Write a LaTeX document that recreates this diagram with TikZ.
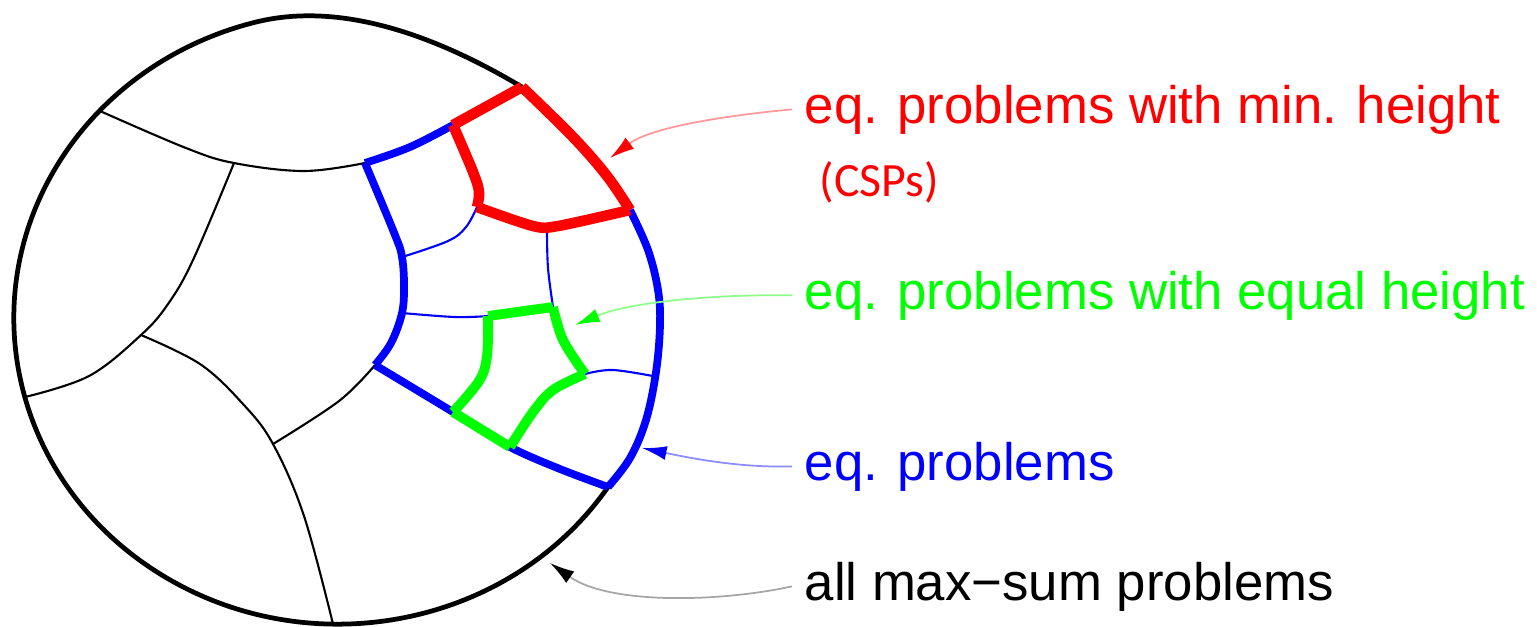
\documentclass[tikz,border=0pt]{standalone}
\usepackage{fontspec}
\setmainfont{Liberation Sans}
\newfontfamily\cspfont{Carlito}
\usetikzlibrary{arrows.meta}
\tikzset{
  outerline/.style={draw=black, line width=1.35pt},
  innerline/.style={draw=black, line width=0.6pt},
  eqline/.style={draw=blue, line width=2.2pt},
  thinblue/.style={draw=blue, line width=0.6pt},
  minline/.style={draw=red, line width=3pt},
  eqhline/.style={draw=green, line width=2.8pt},
  lbl/.style={anchor=base west, inner xsep=3.4pt, inner ysep=0pt, font=\fontsize{15pt}{18pt}\selectfont},
  pointer/.style={line width=0.5pt},
}
\begin{document}
\begin{tikzpicture}[x=0.01cm, y=-0.01cm]
\useasboundingbox (0,0) rectangle (1537,626);
% key vertices
\coordinate (A) at (522,87);
\coordinate (B) at (453,125);
\coordinate (C) at (365,163);
\coordinate (D) at (630,210);
\coordinate (E) at (477,207);
\coordinate (F) at (375,365);
\coordinate (G) at (608,487);
\coordinate (H) at (547,231);
\coordinate (I) at (402,257);
\coordinate (J) at (402,313);
\coordinate (K) at (488,316);
\coordinate (L) at (553,307);
\coordinate (M) at (585,374);
\coordinate (N) at (510,447);
\coordinate (P) at (453,412);
\coordinate (Q) at (658,377);
\coordinate (T1) at (234,163);
\coordinate (T2) at (141,335);
\coordinate (T3) at (273,444);
\coordinate (O1) at (100,111);
\coordinate (O2) at (25,397);
\coordinate (O3) at (333,624);
% outer boundary (black part)
\draw[outerline] (G) arc[start angle=33.5, end angle=255, x radius=324, y radius=306] .. controls (345,-1) and (445,41) .. (A);
% inner black lines
\draw[innerline] plot[smooth, tension=0.6] coordinates {(O1) (186,148) (T1) (304,171) (C)};
\draw[innerline] plot[smooth, tension=0.6] coordinates {(T1) (193,260) (168,304) (T2) (89,376) (O2)};
\draw[innerline] plot[smooth, tension=0.6] coordinates {(T2) (200,364) (243,404) (T3) (304,516) (O3)};
\draw[innerline] plot[smooth, tension=0.6] coordinates {(T3) (339,401) (F)};
% blue (equivalent problems) boundary
\draw[eqline] plot[smooth, tension=0.6] coordinates {(B) (410,147) (C)};
\draw[eqline] plot[smooth, tension=0.6] coordinates {(C) (395,235) (I) (404,285) (J) (391,343) (F)};
\draw[eqline] plot[smooth, tension=0.5] coordinates {(F) (P) (N) (560,469) (G)};
\draw[eqline] plot[smooth, tension=0.6] coordinates {(D) (648,250) (658,290) (660,325) (656,372) (646,420) (630,458) (G)};
% thin blue lines
\draw[thinblue] plot[smooth, tension=0.6] coordinates {(E) (466,227) (448,241) (I)};
\draw[thinblue] plot[smooth, tension=0.6] coordinates {(H) (548,268) (L)};
\draw[thinblue] plot[smooth, tension=0.6] coordinates {(J) (455,317) (K)};
\draw[thinblue] plot[smooth, tension=0.6] coordinates {(M) (613,370) (Q)};
% red (minimal height) boundary
\draw[minline] (A) -- (B);
\draw[minline] plot[smooth, tension=0.6] coordinates {(B) (473,172) (479,192) (E)};
\draw[minline] plot[smooth, tension=0.5] coordinates {(E) (533,226) (558,226) (D)};
\draw[minline] plot[smooth, tension=0.6] coordinates {(A) (573,137) (607,176) (D)};
% green (equal height) boundary
\draw[eqhline] (K) -- (L);
\draw[eqhline] plot[smooth, tension=0.6] coordinates {(L) (563,340) (M)};
\draw[eqhline] plot[smooth, tension=0.6] coordinates {(M) (553,390) (533,412) (N)};
\draw[eqhline] (N) -- (P);
\draw[eqhline] plot[smooth, tension=0.6] coordinates {(P) (479,381) (487,356) (K)};
% labels
\node[lbl, text=red] (tmin) at (792,123) {eq. problems with min. height};
\node[anchor=base west, inner sep=0pt, text=red, font=\cspfont\fontsize{13.6pt}{16pt}\selectfont] (tcsp) at (819,196) {(CSPs)};
\node[lbl, text=green] (teq) at (792,309) {eq. problems with equal height};
\node[lbl, text=blue] (tep) at (792,480) {eq. problems};
\node[lbl, text=black] (tall) at (792,600) {all max−sum problems};
% pointer tips
\coordinate (pmin) at (610,158);
\coordinate (peq) at (575,325);
\coordinate (pep) at (642,448);
\coordinate (pall) at (550,563);
\draw[pointer, draw=red!40, -{Latex[length=7pt,width=4pt,color=red]}] (tmin.west) .. controls (720,116) and (650,128) .. (pmin);
\draw[pointer, draw=green!45, -{Latex[length=7pt,width=4pt,color=green]}] (teq.west) .. controls (715,294) and (630,302) .. (peq);
\draw[pointer, draw=blue!45, -{Latex[length=7pt,width=4pt,color=blue]}] (tep.west) .. controls (740,468) and (690,458) .. (pep);
\draw[pointer, draw=black!35, -{Latex[length=7pt,width=4pt,color=black]}] (tall.west) .. controls (720,602) and (610,605) .. (pall);
\end{tikzpicture}
\end{document}
